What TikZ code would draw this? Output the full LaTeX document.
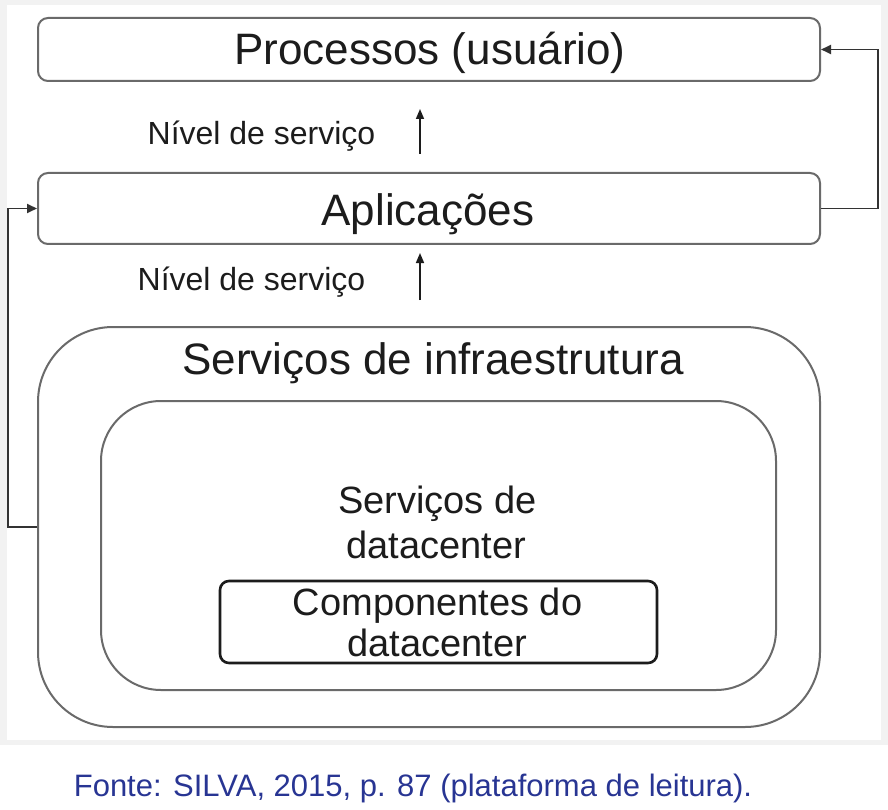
\documentclass[tikz,border=0pt]{standalone}
\usepackage{fontspec}
\setmainfont{Liberation Sans}
\usetikzlibrary{arrows.meta}
\definecolor{capblue}{HTML}{283593}
\definecolor{boxgray}{HTML}{6A6A6A}
\definecolor{txtdark}{HTML}{1C1C1C}
\definecolor{framegray}{HTML}{F2F2F2}
\begin{document}
\begin{tikzpicture}[x=1pt,y=-1pt,
  box/.style={draw=boxgray,line width=2pt,rounded corners=10pt,inner sep=0pt,minimum width=782pt},
  bigtxt/.style={anchor=base,inner sep=0pt,text=txtdark,font=\fontsize{44}{48}\selectfont},
  midtxt/.style={anchor=base,inner sep=0pt,text=txtdark,font=\fontsize{38}{44}\selectfont},
  smalltxt/.style={anchor=base,inner sep=0pt,text=txtdark,font=\fontsize{32}{36}\selectfont},
  conn/.style={draw=txtdark!90,line width=1.8pt,-{Triangle[length=10pt,width=9pt]}},
  uparrow/.style={draw=txtdark,line width=1.6pt,-{Triangle[length=10pt,width=8pt]}}]
\useasboundingbox (0,0) rectangle (888,810);
\fill[framegray] (0,0) rectangle (888,745);
\fill[white] (7,5) rectangle (881,740);

% boxes
\node[box,minimum height=63pt] (proc) at (429,49.5) {};
\node[box,minimum height=71pt] (apl) at (429,208.5) {};
\node[box,minimum height=400pt,rounded corners=75pt] (outer) at (429,527) {};
\node[draw=boxgray,line width=2pt,rounded corners=60pt,inner sep=0pt,minimum width=675pt,minimum height=289pt] (inner) at (438.5,545.5) {};
\node[draw=txtdark,line width=2.6pt,rounded corners=9pt,inner sep=0pt,minimum width=437pt,minimum height=82pt] (comp) at (438.5,622) {};

% texts
\node[bigtxt] (tproc) at (430,65) {Processos (usuário)};
\node[bigtxt] (tapl) at (428,226) {Aplicações};
\node[bigtxt] (tinfra) at (433,374) {Serviços de infraestrutura};
\node[smalltxt] (niv1) at (261.5,145) {Nível de serviço};
\node[smalltxt] (niv2) at (251.5,290) {Nível de serviço};
\node[midtxt] (tdc1) at (437.5,513) {Serviços de};
\node[midtxt] (tdc2) at (436.5,558) {datacenter};
\node[midtxt] (tcomp1) at (437.5,615) {Componentes do};
\node[midtxt] (tcomp2) at (437.5,656) {datacenter};

% up arrows
\coordinate (a1s) at (420,154);
\coordinate (a1e) at (420,109);
\coordinate (a2s) at (420,300);
\coordinate (a2e) at (420,253);
\draw[uparrow] (a1s) -- (a1e);
\draw[uparrow] (a2s) -- (a2e);

% connectors
\draw[conn] (apl.east) -- ++(57,0) |- (proc.east);
\draw[conn] (outer.west) -- ++(-29,0) |- (apl.west);

% caption
\node[anchor=base,inner sep=0pt,text=capblue,font=\fontsize{31}{36}\selectfont] (cap) at (413,796) {Fonte: SILVA, 2015, p. 87 (plataforma de leitura).};
\end{tikzpicture}
\end{document}
